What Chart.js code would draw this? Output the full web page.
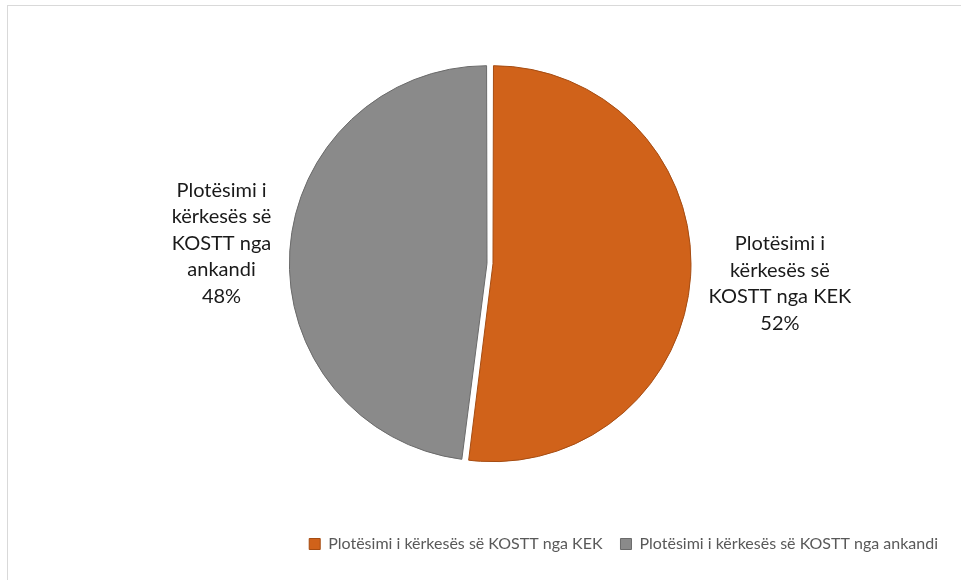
<!DOCTYPE html>
<html>
<head>
<meta charset="utf-8">
<script src="https://cdn.jsdelivr.net/npm/chart.js@4"></script>
<style>
  html, body { margin: 0; padding: 0; background: #fff; }
  #frame {
    position: absolute; left: 7px; top: 5px; width: 1000px; height: 620px;
    border: 1.5px solid #d9d9d9; box-sizing: border-box;
  }
  #wrap { position: absolute; left: 0; top: 0; width: 961px; height: 580px; }
</style>
</head>
<body>
<div id="frame"></div>
<div id="wrap"><canvas id="pieChart" width="961" height="580"></canvas></div>
<script>
// slices, clockwise from 12 o'clock
const categories = [
    "Plotësimi i kërkesës së KOSTT nga KEK",
    "Plotësimi i kërkesës së KOSTT nga ankandi"
];
const shares = [52, 48];
const labelLines = [
    ["Plotësimi i", "kërkesës së", "KOSTT nga KEK"],
    ["Plotësimi i", "kërkesës së", "KOSTT nga", "ankandi"]
];
const sliceColors = ["#d0621a", "#8a8a8a"];
const sliceBorders = ["#a54c12", "#6a6a6a"];

const FONT = "Lato, 'Open Sans', sans-serif";

// draws the multi-line labels outside each slice
const outsideLabels = {
    id: "outsideLabels",
    afterDatasetsDraw(chart) {
        const ctx = chart.ctx;
        const meta = chart.getDatasetMeta(0);
        ctx.save();
        ctx.font = "20px " + FONT;
        ctx.fillStyle = "#1a1a1a";
        ctx.textAlign = "center";
        ctx.textBaseline = "middle";
        const lineH = 26.5;
        meta.data.forEach((arc, i) => {
            const p = arc.getProps(["x", "y", "startAngle", "endAngle", "outerRadius"], true);
            const mid = (p.startAngle + p.endAngle) / 2;
            const lines = labelLines[i].concat([shares[i] + "%"]);
            const w = Math.max(...lines.map((l) => ctx.measureText(l).width));
            const dist = p.outerRadius + 4 + 20;
            let ax = p.x + Math.cos(mid) * dist;
            const ay = p.y + Math.sin(mid) * (dist + 100);
            ax += Math.cos(mid) > 0 ? w / 2 : -w / 2;
            const top = ay - (lines.length - 1) * lineH / 2;
            lines.forEach((l, k) => ctx.fillText(l, ax, top + k * lineH));
        });
        ctx.restore();
    }
};

new Chart(document.getElementById("pieChart"), {
    type: "pie",
    data: {
        labels: categories,
        datasets: [{
            data: shares,
            backgroundColor: sliceColors,
            borderColor: sliceBorders,
            borderWidth: 1,
            offset: 12,
            radius: 195
        }]
    },
    options: {
        responsive: false,
        animation: false,
        layout: { padding: { top: 9, bottom: 18, left: 24, right: 5 } },
        plugins: {
            legend: {
                position: "bottom",
                align: "end",
                labels: {
                    color: "#595959",
                    font: { family: FONT, size: 16 },
                    usePointStyle: true,
                    pointStyle: "rect",
                    boxWidth: 11,
                    boxHeight: 11,
                    padding: 18
                }
            },
            tooltip: { enabled: false }
        }
    },
    plugins: [outsideLabels]
});
</script>
</body>
</html>
